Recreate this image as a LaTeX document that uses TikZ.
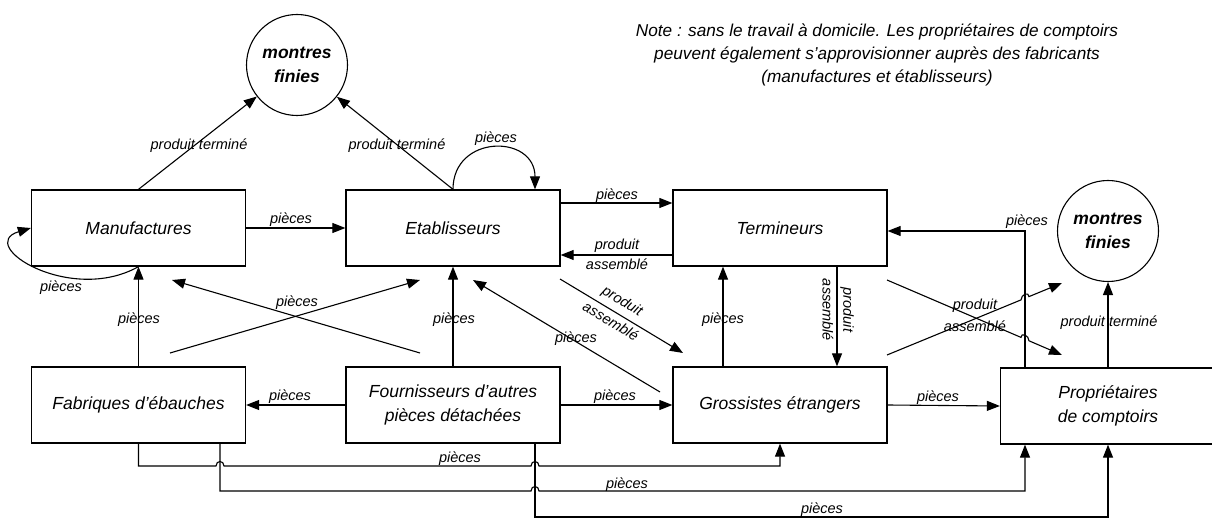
\documentclass[tikz,border=0pt]{standalone}
\usepackage{fontspec}
\setmainfont{Liberation Sans}
\usetikzlibrary{arrows.meta}
\newcommand\boxfont{\fontsize{17.5}{24}\selectfont\itshape}
\newcommand\circfont{\fontsize{17.5}{24}\selectfont\bfseries\itshape}
\newcommand\lblfont{\fontsize{14.5}{18}\selectfont\itshape}
\newcommand\notefont{\fontsize{17.2}{23}\selectfont\itshape}
\begin{document}
\begin{tikzpicture}[x=1pt,y=-1pt,
  box/.style={draw,line width=1.3pt,minimum width=214pt,minimum height=76pt,inner sep=0pt,align=center,font=\boxfont},
  circ/.style={draw,circle,line width=1.1pt,minimum size=101pt,inner sep=0pt,align=center,font=\circfont},
  arr/.style={line width=1.1pt,-{Triangle[length=13pt,width=10pt]}},
  lbl/.style={font=\lblfont,inner sep=0pt,align=center}]
\useasboundingbox (0,0) rectangle (1212,518);
\fill[white] (0,0) rectangle (1212,518);
% nodes
\node[circ] (m1) at (297,65) {montres\\finies};
\node[circ] (m2) at (1108,231) {montres\\finies};
\node[box] (manuf) at (138.5,228) {Manufactures};
\node[box] (etab) at (453,228) {Etablisseurs};
\node[box] (term) at (780,228) {Termineurs};
\node[box] (fab) at (138.5,405) {Fabriques d'ébauches};
\node[box] (fourn) at (453,405) {Fournisseurs d'autres\\pièces détachées};
\node[box] (gross) at (780,405) {Grossistes étrangers};
\node[box,minimum width=215pt] (prop) at (1108,406) {Propriétaires\\de comptoirs};
\node[lbl,font=\notefont] (note) at (877,55) {Note : sans le travail à domicile. Les propriétaires de comptoirs\\peuvent également s'approvisionner auprès des fabricants\\(manufactures et établisseurs)};
% top arrows to montres finies
\draw[arr] (manuf.north) -- (m1);
\draw[arr] (etab.north) -- (m1);
\node[lbl] (l1) at (199,146) {produit terminé};
\node[lbl] (l2) at (397,146) {produit terminé};
% self loops
\coordinate (etabTR) at ([xshift=82pt]etab.north);
\draw[arr] (etab.north) .. controls (453,134) and (535,134) .. (etabTR);
\node[lbl] (l3) at (496,139) {pièces};
\draw[arr] (manuf.south) .. controls (70,305) and (-25,245) .. (manuf.west);
\node[lbl] (l4) at (61,288) {pièces};
% horizontal top row
\draw[arr] (manuf.east) -- (etab.west);
\node[lbl] (l5) at (291,220) {pièces};
\draw[arr] ([yshift=25pt]etab.east) -- ([yshift=25pt]term.west);
\node[lbl] (l6) at (617,196) {pièces};
\draw[arr] ([yshift=-27pt]term.west) -- ([yshift=-27pt]etab.east);
\node[lbl] (l7) at (617,246) {produit};
\node[lbl] (l8) at (617,264) {assemblé};
% verticals
\draw[arr] (fab.north) -- (manuf.south);
\node[lbl] (l9) at (139,320) {pièces};
\draw[arr] (fourn.north) -- (etab.south);
\node[lbl] (l10) at (454,320) {pièces};
\draw[arr] ([xshift=-57pt]gross.north) -- ([xshift=-57pt]term.south);
\node[lbl] (l11) at (723,320) {pièces};
\draw[arr] ([xshift=57pt]term.south) -- ([xshift=57pt]gross.north);
\node[lbl,rotate=-90] (l12) at (847,310) {produit};
\node[lbl,rotate=-90] (l13) at (828,310) {assemblé};
% diagonals left
\coordinate (a1) at (170,353); \coordinate (a2) at (420,280);
\coordinate (b1) at (420,353); \coordinate (b2) at (172,280);
\draw[arr] (a1) -- (a2);
\draw[arr] (b1) -- (b2);
\node[lbl] (l14) at (297,303) {pièces};
\coordinate (c1) at (660,392); \coordinate (c2) at (473,280);
\draw[arr] (c1) -- (c2);
\node[lbl] (l15) at (576,339) {pièces};
\coordinate (d1) at (560,279); \coordinate (d2) at (683,353);
\draw[arr] (d1) -- (d2);
\node[lbl,rotate=-31] (l16) at (622,302) {produit};
\node[lbl,rotate=-31] (l17) at (611,321) {assemblé};
% diagonals right with hops
\coordinate (e1) at (887,280); \coordinate (e2) at (1062,355);
\draw[arr] (e1) -- (1021,337.4) .. controls (1021,332) and (1029,335.4) .. (1029,340.8) -- (e2);
\coordinate (f1) at (887,355); \coordinate (f2) at (1062,283);
\draw[arr] (f1) -- (1021,299.9) .. controls (1021,294.5) and (1029,291.2) .. (1029,296.6) -- (f2);
\node[lbl] (l18) at (975,306) {produit};
\node[lbl] (l19) at (975,326) {assemblé};
% proprietaires
\draw[arr] ([xshift=-83pt]prop.north) |- ([yshift=-3pt]term.east);
\node[lbl] (l20) at (1027,222) {pièces};
\draw[arr] (prop.north) -- (m2);
\node[lbl] (l21) at (1109,323) {produit terminé};
% bottom row horizontals
\draw[arr] (gross.east) -- (prop.west);
\node[lbl] (l22) at (938,398) {pièces};
\draw[arr] (fourn.west) -- (fab.east);
\node[lbl] (l23) at (290,397) {pièces};
\draw[arr] (fourn.east) -- (gross.west);
\node[lbl] (l24) at (615,397) {pièces};
% bottom lines
\draw[arr] (fab.south) |- (216,466) .. controls (216,460) and (224,460) .. (224,466)
  -- (531,466) .. controls (531,460) and (539,460) .. (539,466) -| (gross.south);
\node[lbl] (l25) at (460,459) {pièces};
\draw[arr] ([xshift=81.5pt]fab.south) |- (531,491) .. controls (531,485) and (539,485) .. (539,491)
  -| ([xshift=-83pt]prop.south);
\node[lbl] (l26) at (627,485) {pièces};
\draw[arr] ([xshift=82pt]fourn.south) |- (1108,517) -- (prop.south);
\node[lbl] (l27) at (822,510) {pièces};
\end{tikzpicture}
\end{document}
